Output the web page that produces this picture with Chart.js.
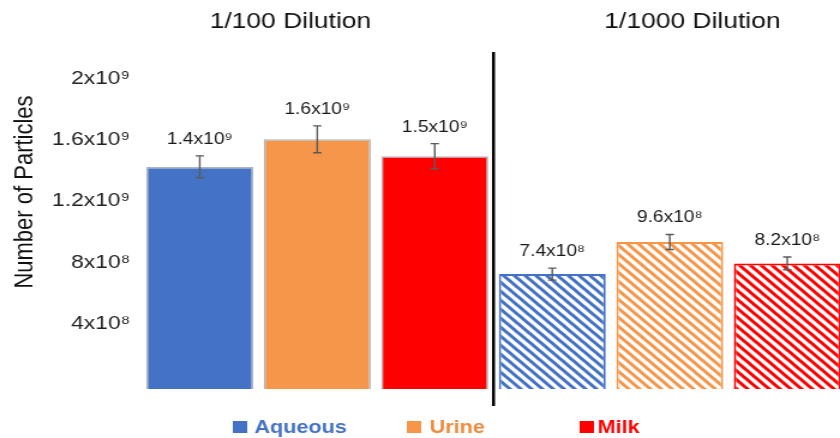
<!DOCTYPE html>
<html>
<head>
<meta charset="utf-8">
<script src="https://cdn.jsdelivr.net/npm/chart.js@4"></script>
<style>
  html, body { margin: 0; padding: 0; background: #fff; overflow: hidden; }
</style>
</head>
<body>
<!-- the original picture is stretched sideways, so the canvas is too -->
<canvas id="chart" width="705" height="438" style="width:846px;height:438px;display:block"></canvas>
<script>
const categories = ['Aqueous', 'Urine', 'Milk', 'Aqueous', 'Urine', 'Milk'];
const dilutions = ['1/100 Dilution', '1/1000 Dilution'];
const seriesNames = ['Aqueous', 'Urine', 'Milk'];
const particleCounts = [1.45e9, 1.63e9, 1.52e9, 7.5e8, 9.6e8, 8.2e8];
const errorValues = [7.2e7, 8.8e7, 8.2e7, 3.9e7, 4.9e7, 4.2e7];
const valueLabels = ['1.4x10⁹', '1.6x10⁹', '1.5x10⁹', '7.4x10⁸', '9.6x10⁸', '8.2x10⁸'];
const tickValues = [4e8, 8e8, 1.2e9, 1.6e9, 2e9];
const tickLabels = ['4x10⁸', '8x10⁸', '1.2x10⁹', '1.6x10⁹', '2x10⁹'];

const colores = ['#4472C4', '#F5964A', '#FF0000'];
const legendText = ['#4472C4', '#EF8A3C', '#FF0000'];
const FONT = "'Liberation Sans', Arial, sans-serif";

Chart.defaults.font.family = FONT;

function hatch(color) {
    const s = 9;
    const c = document.createElement('canvas');
    c.width = s; c.height = s;
    const g = c.getContext('2d');
    g.fillStyle = '#fff';
    g.fillRect(0, 0, s, s);
    g.strokeStyle = color;
    g.lineWidth = 3;
    g.beginPath();
    g.moveTo(0, 0); g.lineTo(s, s);
    g.moveTo(-s / 2, s / 2); g.lineTo(s / 2, s * 1.5);
    g.moveTo(s / 2, -s / 2); g.lineTo(s * 1.5, s / 2);
    g.stroke();
    return g.createPattern(c, 'repeat');
}

const fills = categories.map((c, i) => i < 3 ? colores[i % 3] : hatch(colores[i % 3]));
const borders = categories.map((c, i) => i < 3 ? 'rgba(165,172,182,0.9)' : colores[i % 3]);

const extras = {
    id: 'extras',
    afterDatasetsDraw(chart) {
        const { ctx, chartArea, scales: { x, y } } = chart;
        ctx.save();

        // error bars + value labels
        particleCounts.forEach((v, i) => {
            const px = x.getPixelForValue(i);
            const top = y.getPixelForValue(v + errorValues[i]);
            const bot = y.getPixelForValue(v - errorValues[i]);
            ctx.strokeStyle = '#5a5a5a';
            ctx.lineWidth = 1.4;
            ctx.beginPath();
            ctx.moveTo(px, top); ctx.lineTo(px, bot);
            ctx.moveTo(px - 3.5, top); ctx.lineTo(px + 3.5, top);
            ctx.moveTo(px - 3.5, bot); ctx.lineTo(px + 3.5, bot);
            ctx.stroke();

            ctx.fillStyle = '#1a1a1a';
            ctx.font = '16px ' + FONT;
            ctx.textAlign = 'center';
            ctx.textBaseline = 'alphabetic';
            ctx.fillText(valueLabels[i], px, top - 12);
        });

        // divider between the dilutions
        const mid = (x.getPixelForValue(2) + x.getPixelForValue(3)) / 2;
        ctx.strokeStyle = '#000';
        ctx.lineWidth = 2.5;
        ctx.beginPath();
        ctx.moveTo(mid, chartArea.top);
        ctx.lineTo(mid, chartArea.bottom + 17);
        ctx.stroke();

        // group titles
        ctx.fillStyle = '#111';
        ctx.font = '22px ' + FONT;
        ctx.textAlign = 'center';
        ctx.textBaseline = 'middle';
        ctx.fillText(dilutions[0], 242, 22);
        ctx.fillText(dilutions[1], 577, 22);

        // y axis title
        ctx.save();
        ctx.translate(21, 192);
        ctx.rotate(-Math.PI / 2);
        ctx.font = '22px ' + FONT;
        ctx.fillStyle = '#111';
        ctx.fillText('Number of Particles', 0, 0);
        ctx.restore();

        // legend
        const lx = [[194, 212], [339, 358], [483, 498]];
        ctx.font = 'bold 18px ' + FONT;
        ctx.textAlign = 'left';
        ctx.textBaseline = 'middle';
        seriesNames.forEach((name, i) => {
            ctx.fillStyle = colores[i];
            ctx.fillRect(lx[i][0], 421, 12, 12);
            ctx.fillStyle = legendText[i];
            ctx.fillText(name, lx[i][1], 428);
        });

        ctx.restore();
    }
};

new Chart(document.getElementById('chart'), {
    type: 'bar',
    data: {
        labels: categories,
        datasets: [{
            label: 'Number of Particles',
            data: particleCounts,
            backgroundColor: fills,
            borderColor: borders,
            borderWidth: categories.map((c, i) => i < 3 ? 1.5 : 2),
            barPercentage: 0.91,
            categoryPercentage: 1
        }]
    },
    options: {
        responsive: false,
        devicePixelRatio: 1,
        animation: false,
        layout: { padding: { top: 52, bottom: 49, left: 0, right: 0 } },
        plugins: {
            legend: { display: false },
            tooltip: { enabled: false }
        },
        scales: {
            x: { display: false },
            y: {
                min: 0,
                max: 2.2e9,
                grid: { display: false, drawTicks: false },
                border: { display: false },
                afterBuildTicks: s => { s.ticks = tickValues.map(v => ({ value: v })); },
                afterFit: s => { s.width = 117.5; },
                ticks: {
                    padding: 9,
                    labelOffset: -4,
                    color: '#222',
                    font: { size: 19 },
                    callback: (v) => tickLabels[tickValues.indexOf(v)]
                }
            }
        }
    },
    plugins: [extras]
});
</script>
</body>
</html>
